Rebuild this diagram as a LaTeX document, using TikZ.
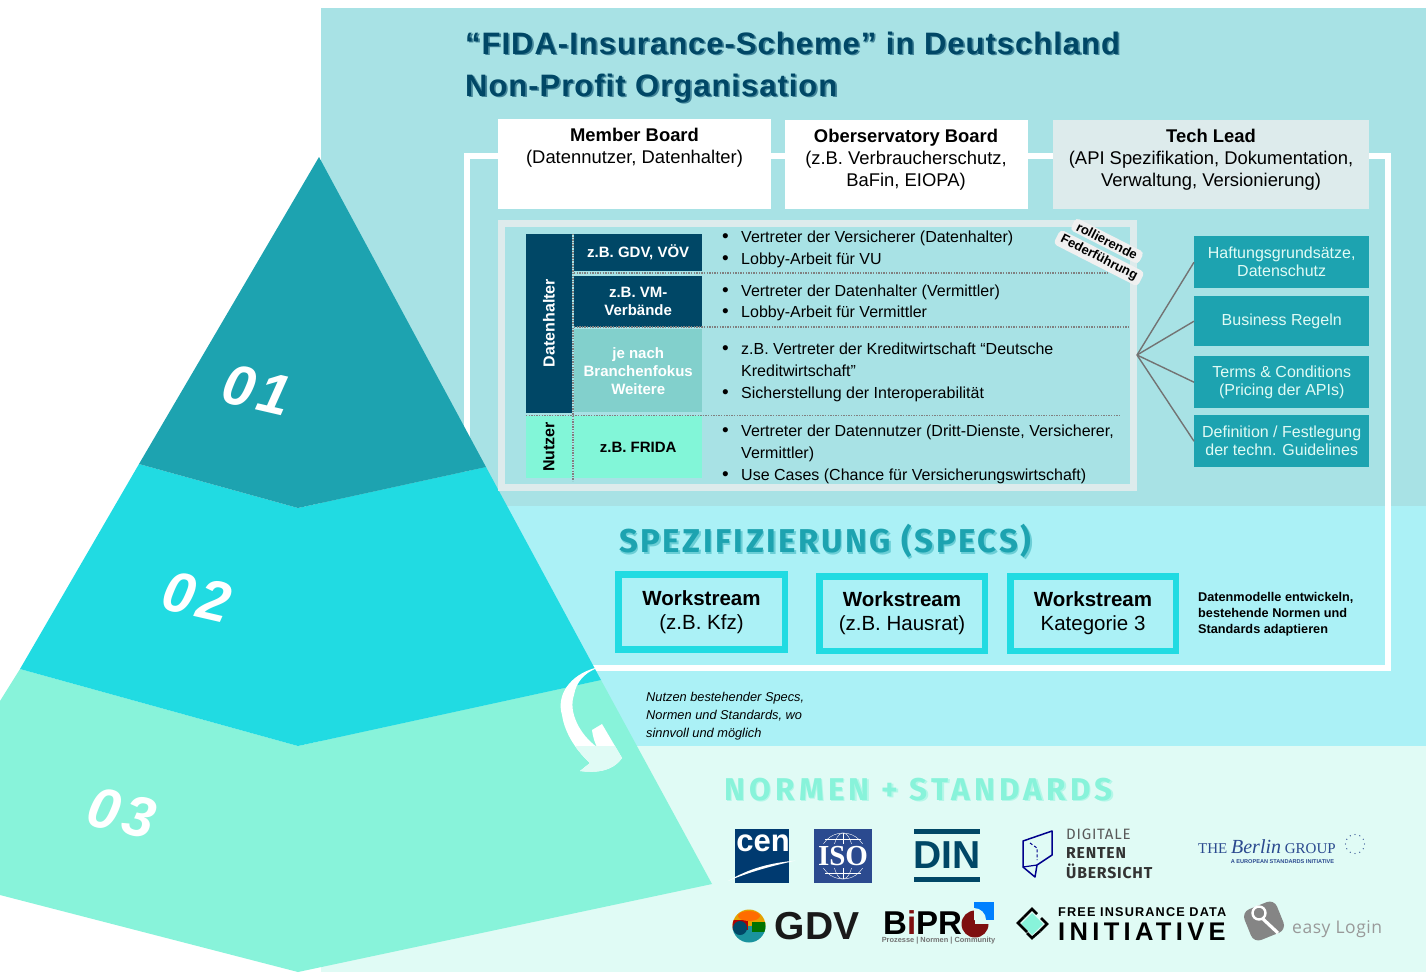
\documentclass[tikz,border=0pt]{standalone}
\usepackage{fontspec}
\setmainfont{Liberation Sans}
\newfontfamily\titlefont[LetterSpace=3.2]{Liberation Sans}
\newfontfamily\headfont[LetterSpace=7.7]{Fira Sans}
\newfontfamily\normfont[LetterSpace=13.5]{Fira Sans}
\newfontfamily\numfont[LetterSpace=8]{Liberation Sans}
\newfontfamily\logofont[LetterSpace=5]{Fira Sans}
\newfontfamily\fidafont[LetterSpace=17]{Liberation Sans}
\newfontfamily\fidasmall[LetterSpace=9]{Liberation Sans}
\newfontfamily\serif{Liberation Serif}
\newfontfamily\openfont[LetterSpace=3]{Open Sans}
\newcommand{\fs}[2]{\fontsize{#1}{#2}\selectfont}
\newcommand{\shad}[3]{\rlap{\kern1.6pt\raisebox{-1.8pt}{\textcolor{#1}{#3}}}\textcolor{#2}{#3}}
\newcommand{\blt}{\llap{{\fs{19}{19}•}\hspace{12.5pt}}}
\definecolor{panelA}{HTML}{A8E2E5}
\definecolor{panelB}{HTML}{ABF1F6}
\definecolor{panelC}{HTML}{E0FBF5}
\definecolor{teal}{HTML}{1DA3B0}
\definecolor{cyanT}{HTML}{21DBE2}
\definecolor{mintT}{HTML}{88F3DA}
\definecolor{navy}{HTML}{004766}
\definecolor{pale}{HTML}{DDEBEC}
\definecolor{mintN}{HTML}{82F6D8}
\definecolor{tealL}{HTML}{82D0CC}
\definecolor{isoB}{HTML}{2B4A8F}
\definecolor{cenB}{HTML}{003A70}
\definecolor{bred}{HTML}{7E0F10}
\tikzset{
 btxt/.style={inner sep=0pt,align=center,font=\fs{18.4}{22}},
 bullettxt/.style={inner sep=0pt,anchor=west,align=left,font=\fs{16}{21.7}},
 cellbox/.style={inner sep=0pt,anchor=north west,align=center,font=\fs{15}{18}\bfseries},
 sidebox/.style={inner sep=0pt,anchor=north west,fill=teal,minimum width=175pt,align=center,text=panelC,font=\fs{16}{18}},
 wsbox/.style={inner sep=0pt,anchor=north west,draw=cyanT,line width=6.5pt,fill=panelB,align=center,minimum width=166.5pt,minimum height=75pt,font=\fs{20.5}{24}},
 sticker/.style={fill=black!6!white,rounded corners=4pt,inner xsep=5pt,inner ysep=2pt,rotate=-27,font=\fs{13}{14}\bfseries},
 num/.style={inner sep=0pt,text=white,rotate=-13,font=\numfont\fs{57}{57}\bfseries\itshape},
 dotline/.style={draw=black!50,line width=1.2pt,dash pattern=on 1.3pt off 1.3pt},
 spoke/.style={draw=black!55,line width=1.4pt},
 tiny/.style={inner sep=0pt,anchor=west}
}
\begin{document}
\begin{tikzpicture}[x=1pt,y=-1pt]
\useasboundingbox (0,0) rectangle (1426,972);
% panels
\fill[panelA] (321,8) rectangle (1426,506);
\fill[panelB] (321,506) rectangle (1426,746);
\fill[panelC] (321,746) rectangle (1426,972);
% white frame
\draw[white,line width=6pt] (467,600) -- (467,156) -- (1387.5,156) -- (1387.5,668) -- (590,668);
% pyramid
\fill[mintT] (20,669) -- (298,746) -- (601,680) -- (712,884) -- (298,972) -- (0,895) -- (0,701) -- cycle;
\fill[cyanT] (139,464) -- (298,508) -- (486,467) -- (601,680) -- (298,746) -- (20,669) -- cycle;
\fill[teal] (319,157) -- (486,467) -- (298,508) -- (139,464) -- cycle;
\node[num] (n1) at (257,390) {01};
\node[num] (n2) at (197,597) {02};
\node[num] (n3) at (122,813) {03};
% arrow
\def\arrowp{(595,668) .. controls (570,675) and (556,695) .. (562,715) .. controls (565,735) and (578,752) .. (590,763) -- (580,771) .. controls (595,773) and (612,772) .. (622,758) -- (602,724) -- (592,730) .. controls (593,738) and (595,743) .. (597,747) .. controls (580,735) and (568,712) .. (574,695) .. controls (576,682) and (585,673) .. (595,669) -- cycle}
\fill[white] \arrowp;
\begin{scope}
\clip (540,746) rectangle (640,790);
\fill[panelC] \arrowp;
\end{scope}
% title
\node[inner sep=0pt,anchor=base west,font=\titlefont\fs{31}{42}\bfseries] (title1) at (465,54) {\shad{navy!60!panelA}{navy}{“FIDA-Insurance-Scheme” in Deutschland}};
\node[inner sep=0pt,anchor=base west,font=\titlefont\fs{31}{42}\bfseries] (title2) at (465,96) {\shad{navy!60!panelA}{navy}{Non-Profit Organisation}};
% boards
\fill[white] (498,119) rectangle (771,209);
\fill[white] (785,120) rectangle (1028,209);
\fill[pale] (1053,120) rectangle (1369,209);
\node[btxt,anchor=north] (mb) at (634.5,127.5) {\textbf{Member Board}\\(Datennutzer, Datenhalter)};
\node[btxt,anchor=north] (ob) at (906,128.5) {\textbf{Oberservatory Board}\\(z.B. Verbraucherschutz,\\BaFin, EIOPA)};
\node[btxt,anchor=north] (tl) at (1211,128.5) {\textbf{Tech Lead}\\(API Spezifikation, Dokumentation,\\Verwaltung, Versionierung)};
% table frame
\draw[pale,line width=7pt,fill=panelA] (501.5,223.5) rectangle (1133.5,487.5);
% table cells
\node[cellbox,fill=navy,text=white,minimum width=46pt,minimum height=179pt] (dh) at (526,234) {};
\node[inner sep=0pt,rotate=90,text=white,font=\fs{16}{18}\bfseries] (dhl) at (549,323) {Datenhalter};
\node[cellbox,fill=mintN,minimum width=46pt,minimum height=62pt] (nu) at (526,416) {};
\node[inner sep=0pt,rotate=90,font=\fs{16}{18}\bfseries] (nul) at (549,447) {Nutzer};
\node[cellbox,fill=navy,text=white,minimum width=128pt,minimum height=37pt] (c1) at (574,234) {z.B. GDV, VÖV};
\node[cellbox,fill=navy,text=white,minimum width=128pt,minimum height=51pt] (c2) at (574,276) {z.B. VM-\\Verbände};
\node[cellbox,fill=tealL,text=white,minimum width=128pt,minimum height=83pt] (c3) at (574,329) {je nach\\Branchenfokus\\Weitere};
\node[cellbox,fill=mintN,minimum width=128pt,minimum height=62pt] (c4) at (574,416) {z.B. FRIDA};
% dotted lines
\draw[dotline] (573,234) -- (573,481);
\draw[dotline] (574,273) -- (1109,273);
\draw[dotline] (574,327) -- (1129,327);
\draw[dotline] (526,415.5) -- (1120,415.5);
% table text
\node[bullettxt] (t1) at (741,249.5) {\blt Vertreter der Versicherer (Datenhalter)\\\blt Lobby-Arbeit für VU};
\node[bullettxt] (t2) at (741,303) {\blt Vertreter der Datenhalter (Vermittler)\\\blt Lobby-Arbeit für Vermittler};
\node[bullettxt] (t3) at (741,372.5) {\blt z.B. Vertreter der Kreditwirtschaft “Deutsche\\Kreditwirtschaft”\\\blt Sicherstellung der Interoperabilität};
\node[bullettxt] (t4) at (741,454.5) {\blt Vertreter der Datennutzer (Dritt-Dienste, Versicherer,\\Vermittler)\\\blt Use Cases (Chance für Versicherungswirtschaft)};
% sticker
\node[sticker] (s1) at (1107,241) {rollierende};
\node[sticker] (s2) at (1099,258) {Federführung};
% right boxes
\node[sidebox,minimum height=52pt] (r1) at (1194,236) {Haftungsgrundsätze,\\Datenschutz};
\node[sidebox,minimum height=50pt] (r2) at (1194,296) {Business Regeln};
\node[sidebox,minimum height=52pt] (r3) at (1194,356) {Terms \& Conditions\\(Pricing der APIs)};
\node[sidebox,minimum height=52pt] (r4) at (1194,415) {Definition / Festlegung\\der techn. Guidelines};
\coordinate (hub) at (1137,355);
\draw[spoke] (hub) -- (r1.west);
\draw[spoke] (hub) -- (r2.west);
\draw[spoke] (hub) -- (r3.west);
\draw[spoke] (hub) -- (r4.west);
% specs
\node[inner sep=0pt,anchor=west,font=\headfont\fs{33}{36}\bfseries] (sp) at (619,542) {\shad{teal!45!panelB}{teal}{SPEZIFIZIERUNG (SPECS)}};
\node[wsbox] (w1) at (615,571) {\textbf{Workstream}\\(z.B. Kfz)};
\node[wsbox,minimum width=165.5pt,minimum height=74.5pt] (w2) at (816,573) {\textbf{Workstream}\\(z.B. Hausrat)};
\node[wsbox,minimum width=165.5pt,minimum height=74.5pt] (w3) at (1007,573) {\textbf{Workstream}\\Kategorie 3};
\node[inner sep=0pt,anchor=west,align=left,font=\fs{12.7}{16}\bfseries] (dm) at (1198,614) {Datenmodelle entwickeln,\\bestehende Normen und\\Standards adaptieren};
\node[inner sep=0pt,anchor=west,align=left,font=\fs{12.8}{18}\itshape] (nb) at (646,716) {Nutzen bestehender Specs,\\Normen und Standards, wo\\sinnvoll und möglich};
% normen
\node[inner sep=0pt,anchor=west,font=\normfont\fs{31.5}{36}\bfseries] (ns) at (724,790) {\shad{mintT!50!panelC}{mintT}{NORMEN + STANDARDS}};
% CEN
\node[inner sep=0pt,anchor=north west,fill=cenB,minimum width=54pt,minimum height=54pt] (cen) at (735,828.5) {};
\node[inner sep=0pt,text=white,font=\fs{31}{31}\bfseries] (cent) at (763,843) {cen};
\fill[white] (728,881) .. controls (750,868) and (770,863) .. (796,860.5) .. controls (772,866) and (752,871) .. (728,881) -- cycle;
% ISO
\node[inner sep=0pt,anchor=north west,fill=isoB,minimum width=58pt,minimum height=53.5pt] (iso) at (814,829) {};
\begin{scope}[white,line width=0.4pt]
\draw (843,856) circle (23pt);
\draw (843,856) ellipse (10pt and 23pt);
\draw (820,846) -- (866,846);
\draw (820,866) -- (866,866);
\draw (825,839) -- (861,839);
\draw (825,873) -- (861,873);
\draw (843,833) -- (843,879);
\end{scope}
\fill[isoB] (817,844) rectangle (869,868);
\node[inner sep=0pt,text=white,font=\serif\fs{29}{29}\bfseries] (isot) at (843,856) {ISO};
% DIN
\fill[navy] (914,829) rectangle (980,833.5);
\fill[navy] (914,877) rectangle (980,881.5);
\node[inner sep=0pt,text=navy,font=\fs{39}{39}\bfseries] (din) at (947,855.5) {DIN};
% DRV
\draw[blue!55!black,line width=1.5pt,line join=round] (1052,831) -- (1023,841) -- (1023,867) -- (1035,877) -- (1037,865) -- (1052,855) -- cycle;
\draw[blue!55!black,line width=1.2pt] (1023,867) -- (1037,865);
\draw[blue!55!black,line width=1pt,dash pattern=on 3pt off 2pt] (1030,843) -- (1037,848) -- (1037,860);
\node[tiny,text=black!65,font=\logofont\fs{15}{16}] (dg1) at (1066,834.5) {DIGITALE};
\node[tiny,text=black!80,font=\logofont\fs{15.8}{16}\bfseries] (dg2) at (1066,853) {RENTEN};
\node[tiny,text=black!80,font=\logofont\fs{15.8}{16}\bfseries] (dg3) at (1066,871) {ÜBERSICHT};
% Berlin Group
\node[tiny,text=isoB,anchor=base west,font=\serif\fs{15}{16}] (bg) at (1198,853) {THE {\fs{20}{20}\itshape Berlin} GROUP};
\node[inner sep=0pt,text=isoB,font=\fs{5.6}{6}\bfseries] (bg2) at (1282.5,862) {A EUROPEAN STANDARDS INITIATIVE};
\foreach \a in {0,30,...,330} \fill[isoB] ({1355+9.5*cos(\a)},{844+9.5*sin(\a)}) circle (0.7pt);
% GDV
\begin{scope}
\clip (749,926) circle (16.5pt);
\fill[orange!60!yellow!90!black] (732,909) rectangle (766,926);
\fill[teal!90!black] (732,926) rectangle (766,943);
\fill[green!45!black] (752,922) rectangle (766,932);
\fill[red!70!black] (732,920) rectangle (748,930);
\fill[navy] (740,928) circle (7pt);
\fill[orange!85!red] (749,916) ellipse (11pt and 5pt);
\end{scope}
\node[inner sep=0pt,text=black!90,font=\fs{39}{39}\bfseries] (gdv) at (817,926) {GDV};
% BiPRO
\node[tiny,font=\fs{33}{33}\bfseries] (bp) at (883,923) {B\textcolor{bred}{i}PR};
\fill[bred] (975,924) circle (13.5pt);
\fill[panelC] (975,924) -- (975,909) -- (990,909) -- (990,924) -- cycle;
\fill[blue!50!cyan] (974,902) rectangle (993.5,920);
\fill[panelC] (974,920) -- (974,908) arc[start angle=90,end angle=0,radius=12pt] -- cycle;
\node[inner sep=0pt,text=black!55,font=\fs{7.4}{8}\bfseries] (bp2) at (938.5,941) {Prozesse | Normen | Community};
% FIDA
\fill[mintT] (1032,913) -- (1043,924) -- (1032,935) -- (1021,924) -- cycle;
\draw[black,line width=2.6pt] (1024,917) -- (1032,909) -- (1037,914);
\draw[black,line width=2.6pt] (1024,917) -- (1018,923) -- (1027,932);
\draw[black,line width=2.6pt] (1040,931) -- (1047,924) -- (1041,918);
\draw[black,line width=2.6pt] (1040,931) -- (1032,938) -- (1027,933);
\node[tiny,font=\fidasmall\fs{12.7}{13}\bfseries] (fi1) at (1058,912) {FREE INSURANCE DATA};
\node[tiny,font=\fidafont\fs{25.5}{26}\bfseries] (fi2) at (1058,931.5) {INITIATIVE};
% Easy login
\node[fill=black!48,rounded corners=8pt,minimum width=35pt,minimum height=33pt,inner sep=0pt,rotate=22] (el) at (1264,921) {};
\draw[white,line width=2.4pt] (1259,913) circle (6.5pt);
\draw[white,line width=3.2pt] (1263,919) -- (1278,933);
\node[tiny,text=black!40,font=\openfont\fs{17.5}{18}] (elt) at (1292,929) {easy Login};
\end{tikzpicture}
\end{document}
